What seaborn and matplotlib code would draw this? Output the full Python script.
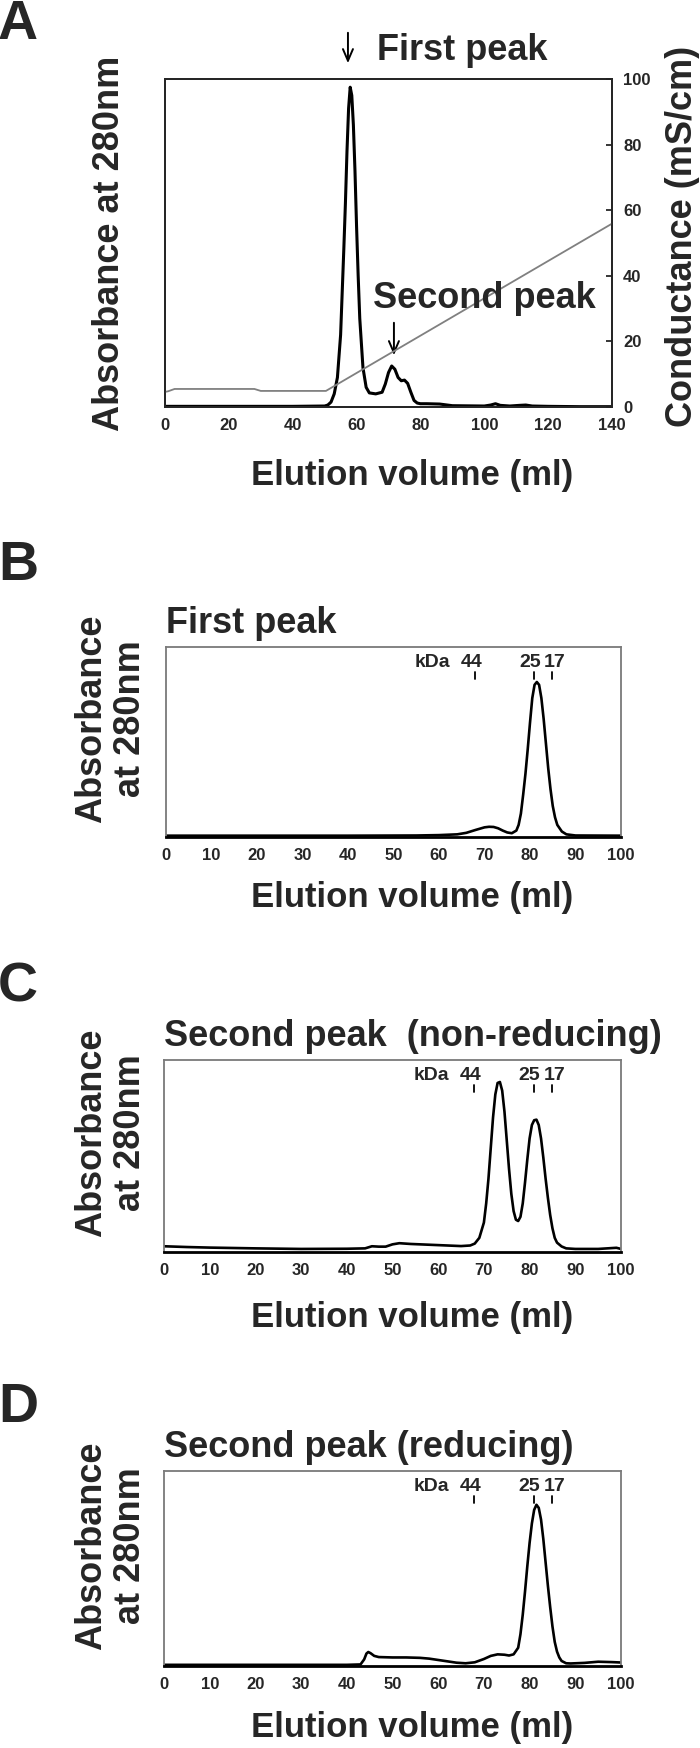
import matplotlib
matplotlib.use("Agg")
import matplotlib.pyplot as plt
import seaborn as sns

# ---- data ----
# Panel A: anion exchange, absorbance (relative, 0-100) and conductance (mS/cm)
a_abs_x = [0, 20, 40, 50, 51, 52, 53, 54, 55, 56, 56.5, 57, 57.5, 58, 58.5, 59, 59.5, 60,
           60.5, 61, 62, 63, 64, 66, 68, 69, 70, 71, 72, 73, 74, 75, 76, 77, 78, 79, 80,
           82, 86, 90, 100, 102, 103.5, 105, 108, 111, 113, 115, 120, 130, 140]
a_abs_y = [0.2, 0.2, 0.2, 0.3, 0.6, 1.5, 4, 9, 22, 48, 62, 78, 91, 97.5, 95, 86, 72, 55,
           40, 27, 12, 6, 4.3, 4, 4.5, 7, 10.5, 12.5, 11.5, 9, 8, 8.2, 7.2, 4.5, 2, 1.2, 1,
           1, 0.9, 0.4, 0.3, 0.6, 1.0, 0.5, 0.3, 0.5, 0.6, 0.3, 0.2, 0.1, 0.1]
a_cond_x = [0, 1, 3, 28, 30, 50.4, 140]
a_cond_y = [4.6, 4.8, 5.5, 5.5, 4.9, 4.9, 55.9]

# Panel B: gel filtration of the first peak
b_x = [0, 20, 40, 55, 60, 64, 66, 68, 70, 71, 72, 73, 74, 75, 76, 77, 77.5, 78, 78.5, 79,
       79.5, 80, 80.5, 81, 81.5, 82, 82.5, 83, 83.5, 84, 84.5, 85, 85.5, 86, 87, 88, 90, 100]
b_y = [0.003, 0.003, 0.003, 0.004, 0.006, 0.01, 0.018, 0.033, 0.047, 0.05, 0.049, 0.042,
       0.03, 0.02, 0.016, 0.03, 0.06, 0.12, 0.22, 0.33, 0.46, 0.6, 0.73, 0.8, 0.815, 0.8,
       0.73, 0.62, 0.49, 0.36, 0.25, 0.16, 0.1, 0.06, 0.025, 0.01, 0.004, 0.003]

# Panel C: second peak, non-reducing
c_x = [0, 5, 10, 20, 30, 40, 44, 45.5, 47, 48.5, 50, 51.5, 54, 60, 65, 67, 68, 69, 70,
       70.5, 71, 71.5, 72, 72.5, 73, 73.5, 74, 74.5, 75, 75.5, 76, 76.5, 77, 77.5, 78,
       78.5, 79, 79.5, 80, 80.5, 81, 81.5, 82, 82.5, 83, 83.5, 84, 84.5, 85, 85.5, 86,
       87, 88, 90, 95, 99, 100]
c_y = [0.026, 0.022, 0.019, 0.015, 0.012, 0.013, 0.015, 0.026, 0.024, 0.024, 0.036,
       0.042, 0.038, 0.032, 0.027, 0.03, 0.04, 0.07, 0.15, 0.25, 0.38, 0.54, 0.7, 0.82,
       0.88, 0.885, 0.84, 0.73, 0.58, 0.43, 0.3, 0.21, 0.165, 0.158, 0.18, 0.25, 0.36,
       0.48, 0.59, 0.66, 0.685, 0.688, 0.66, 0.59, 0.49, 0.38, 0.28, 0.19, 0.12, 0.07,
       0.045, 0.025, 0.015, 0.012, 0.012, 0.018, 0.012]

# Panel D: second peak, reducing
d_x = [0, 10, 20, 30, 40, 43, 43.8, 44.3, 44.7, 45.2, 46, 47, 50, 53, 56, 58, 60, 62, 64,
       66, 68, 70, 71.5, 73, 74.5, 75.5, 76.5, 77.5, 78, 78.5, 79, 79.5, 80, 80.5, 81,
       81.5, 82, 82.5, 83, 83.5, 84, 84.5, 85, 85.5, 86, 86.5, 87, 88, 89, 92, 95, 98, 100]
d_y = [0.002, 0.002, 0.002, 0.002, 0.002, 0.004, 0.03, 0.06, 0.068, 0.062, 0.048, 0.042,
       0.04, 0.04, 0.038, 0.034, 0.027, 0.02, 0.013, 0.01, 0.015, 0.032, 0.048, 0.056,
       0.054, 0.05, 0.056, 0.09, 0.16, 0.26, 0.38, 0.51, 0.63, 0.73, 0.8, 0.826, 0.81,
       0.75, 0.65, 0.53, 0.41, 0.3, 0.2, 0.12, 0.07, 0.04, 0.022, 0.01, 0.009, 0.012,
       0.018, 0.016, 0.014]

# size markers (kDa) on the gel filtration column
marker_labels = ["44", "25", "17"]
marker_pos = [67.9, 80.9, 84.8]
marker_text_pos = [67.2, 80.0, 85.4]

gf_titles = ["First peak", "Second peak  (non-reducing)", "Second peak (reducing)"]
gf_letters = ["B", "C", "D"]

sns.set_theme(style="white")
plt.rcParams["font.family"] = ["Liberation Sans", "DejaVu Sans"]
plt.rcParams["font.weight"] = "bold"

W, H = 700, 1748
fig = plt.figure(figsize=(W / 100, H / 100), dpi=100)


def rect(l, t, r, b):
    return [l / W, 1 - b / H, (r - l) / W, (b - t) / H]


def fx(px):
    return px / W


def fy(py):
    return 1 - py / H


tick_kw = dict(labelsize=12, direction="in", length=4, width=1.1, color="black", pad=8)
arrow_kw = dict(arrowstyle="->,head_length=0.7,head_width=0.3", color="black", lw=1.4)

# ---------------- Panel A ----------------
axA = fig.add_axes(rect(165, 79, 612, 407))
sns.lineplot(x=a_abs_x, y=a_abs_y, ax=axA, color="black", linewidth=2.2)
axA.set_xlim(0, 140)
axA.set_ylim(0, 100)
axA.set_yticks([])
axA.set_xticks(range(0, 141, 20))
axA.set_xticks(range(10, 141, 20), minor=True)
axA.tick_params(axis="x", which="both", **tick_kw)
for lab in axA.get_xticklabels():
    lab.set_fontweight("bold")
for s in axA.spines.values():
    s.set_color("#222222")
    s.set_linewidth(1.4)

axA2 = axA.twinx()
sns.lineplot(x=a_cond_x, y=a_cond_y, ax=axA2, color="#808080", linewidth=1.3)
axA2.set_ylim(0, 100)
axA2.set_yticks(range(0, 101, 20))
axA2.tick_params(axis="y", **tick_kw)
for lab in axA2.get_yticklabels():
    lab.set_fontweight("bold")
axA2.set_ylabel("")
axA.set_ylabel("")

fig.text(fx(110), fy(243), "Absorbance at 280nm", rotation=90, ha="center",
         va="center", fontsize=26, fontweight="bold")
fig.text(fx(682), fy(236), "Conductance (mS/cm)", rotation=90, ha="center",
         va="center", fontsize=26, fontweight="bold")
fig.text(fx(412), fy(476), "Elution volume (ml)", ha="center", va="center",
         fontsize=25, fontweight="bold")
fig.text(fx(-2), fy(25), "A", ha="left", va="center", fontsize=40, fontweight="bold")

# arrows and labels for peaks
hA = 407 - 79
axA.annotate("", xy=(57.3, 1 + (79 - 66) / hA), xytext=(57.3, 1 + (79 - 30) / hA),
             xycoords=("data", "axes fraction"), textcoords=("data", "axes fraction"),
             arrowprops=arrow_kw, annotation_clip=False)
fig.text(fx(377), fy(60), "First peak", ha="left", va="baseline", fontsize=26,
         fontweight="bold")
axA.annotate("", xy=(71.7, (407 - 358) / hA * 100), xytext=(71.7, (407 - 320) / hA * 100),
             arrowprops=arrow_kw)
fig.text(fx(373), fy(308), "Second peak", ha="left", va="baseline", fontsize=26,
         fontweight="bold")

# ---------------- Panels B-D ----------------
gf_rects = [(166, 647, 621, 837), (164, 1060, 621, 1252), (164, 1471, 621, 1666)]
gf_x = [b_x, c_x, d_x]
gf_y = [b_y, c_y, d_y]
letter_y = [566, 987, 1408]
xlabel_y = [898, 1317, 1727]

for i in range(3):
    l, t, r, b = gf_rects[i]
    ax = fig.add_axes(rect(l, t, r, b))
    sns.lineplot(x=gf_x[i], y=gf_y[i], ax=ax, color="black", linewidth=1.9)
    ax.set_xlim(0, 100)
    ax.set_ylim(-0.004, 1)
    ax.set_yticks([])
    ax.set_xticks(range(0, 101, 10))
    ax.tick_params(axis="x", **tick_kw)
    for lab in ax.get_xticklabels():
        lab.set_fontweight("bold")
    for name, s in ax.spines.items():
        s.set_color("#7a7a7a")
        s.set_linewidth(1.3)
    ax.spines["bottom"].set_color("black")
    ax.spines["bottom"].set_linewidth(2.0)
    ax.set_ylabel("")

    hgt = b - t
    # size markers
    for lab, pos, tpos in zip(marker_labels, marker_pos, marker_text_pos):
        ax.plot([pos, pos], [1 - 25 / hgt, 1 - 32 / hgt], color="black", lw=1.3)
        ax.text(tpos, 1 - 20 / hgt, lab, ha="center", va="baseline", fontsize=14,
                fontweight="bold")
    ax.text(58.6, 1 - 20 / hgt, "kDa", ha="center", va="baseline", fontsize=14,
            fontweight="bold")

    fig.text(fx(l), fy(t - 14), gf_titles[i], ha="left", va="baseline", fontsize=26,
             fontweight="bold")
    fig.text(fx(111), fy((t + b) / 2 - 23), "Absorbance\nat 280nm", rotation=90,
             ha="center", va="center", multialignment="center", fontsize=26,
             fontweight="bold", linespacing=1.15)
    fig.text(fx(412), fy(xlabel_y[i]), "Elution volume (ml)", ha="center", va="center",
             fontsize=25, fontweight="bold")
    fig.text(fx(-2), fy(letter_y[i]), gf_letters[i], ha="left", va="center", fontsize=40,
             fontweight="bold")

fig.savefig("out.png", dpi=100)
